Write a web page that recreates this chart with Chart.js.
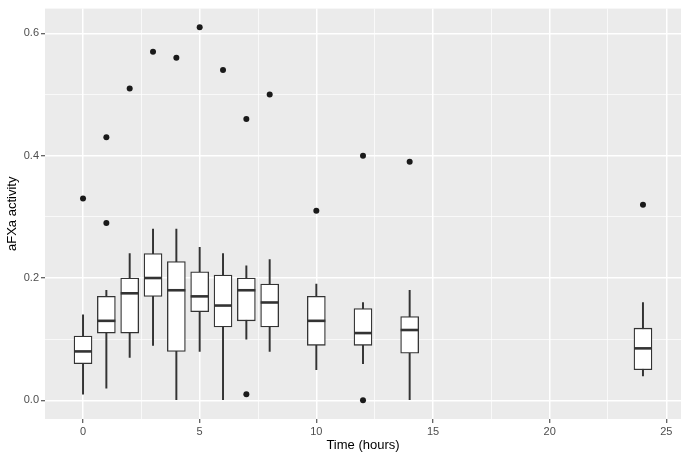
<!DOCTYPE html>
<html>
<head>
<meta charset="utf-8">
<script src="https://cdn.jsdelivr.net/npm/chart.js@4.4.1/dist/chart.umd.min.js"></script>
<style>
  html, body { margin: 0; padding: 0; background: #fff; }
  #wrap { width: 685px; height: 456px; }
</style>
</head>
<body>
<div id="wrap"><canvas id="boxChart" width="685" height="456"></canvas></div>
<script>
// box summaries per time point
const times   = [0, 1, 2, 3, 4, 5, 6, 7, 8, 10, 12, 14, 24];
const whiskLo = [0.01, 0.02, 0.07, 0.09, 0.00, 0.08, 0.00, 0.10, 0.08, 0.05, 0.06, 0.00, 0.04];
const q1      = [0.06, 0.11, 0.11, 0.17, 0.08, 0.145, 0.12, 0.13, 0.12, 0.09, 0.09, 0.077, 0.05];
const medians = [0.08, 0.13, 0.175, 0.20, 0.18, 0.17, 0.155, 0.18, 0.16, 0.13, 0.11, 0.115, 0.085];
const q3      = [0.105, 0.17, 0.20, 0.24, 0.227, 0.21, 0.205, 0.20, 0.19, 0.17, 0.15, 0.137, 0.118];
const whiskHi = [0.14, 0.18, 0.24, 0.28, 0.28, 0.25, 0.24, 0.22, 0.23, 0.19, 0.16, 0.18, 0.16];

// outliers
const outlierTimes  = [0, 1, 1, 2, 3, 4, 5, 6, 7, 7, 8, 10, 12, 12, 14, 24];
const outlierValues = [0.33, 0.43, 0.29, 0.51, 0.57, 0.56, 0.61, 0.54, 0.46, 0.01, 0.50, 0.31, 0.40, 0.00, 0.39, 0.32];

const xMajor = [0, 5, 10, 15, 20, 25];
const yMajor = ["0.0", "0.2", "0.4", "0.6"];

const lineCol = "#333333";
const tickFont = { family: "'Liberation Sans', Arial, sans-serif", size: 11 };

const isMajorX = v => Math.abs(v % 5) < 1e-6;
const isMajorY = v => Math.abs(Math.round(v * 10)) % 2 === 0;
const tickVal = c => (c.tick ? c.tick.value : NaN);

// grey panel behind the plot
const panelBg = {
  id: "panelBg",
  beforeDraw(chart) {
    const { ctx, chartArea: a } = chart;
    ctx.save();
    ctx.fillStyle = "#EBEBEB";
    ctx.fillRect(a.left, a.top, a.right - a.left, a.bottom - a.top);
    ctx.restore();
  }
};

// median bars across each box
const medianLines = {
  id: "medianLines",
  afterDatasetsDraw(chart) {
    const { ctx } = chart;
    const xs = chart.scales.x, ys = chart.scales.y;
    const boxes = chart.getDatasetMeta(1).data;
    ctx.save();
    ctx.strokeStyle = lineCol;
    ctx.lineWidth = 2.6;
    medians.forEach((m, i) => {
      const cx = xs.getPixelForValue(times[i]);
      const half = boxes[i].width / 2;
      const y = ys.getPixelForValue(m);
      ctx.beginPath();
      ctx.moveTo(cx - half, y);
      ctx.lineTo(cx + half, y);
      ctx.stroke();
    });
    ctx.restore();
  }
};

const ctx = document.getElementById("boxChart").getContext("2d");
new Chart(ctx, {
  data: {
    datasets: [
      {
        type: "bar",
        label: "whiskers",
        data: times.map((t, i) => ({ x: t, y: [whiskLo[i], whiskHi[i]] })),
        backgroundColor: lineCol,
        borderWidth: 0,
        barThickness: 1.3,
        grouped: false,
        order: 3
      },
      {
        type: "bar",
        label: "boxes",
        data: times.map((t, i) => ({ x: t, y: [q1[i], q3[i]] })),
        backgroundColor: "#FFFFFF",
        borderColor: lineCol,
        borderWidth: 1.3,
        borderSkipped: false,
        barThickness: 18,
        grouped: false,
        order: 2
      },
      {
        type: "scatter",
        label: "outliers",
        data: outlierTimes.map((t, i) => ({ x: t, y: outlierValues[i] })),
        backgroundColor: "#1A1A1A",
        borderWidth: 0,
        pointRadius: 3,
        order: 1
      }
    ]
  },
  options: {
    responsive: false,
    animation: false,
    layout: { padding: { top: 5, right: 2, left: 0, bottom: 0 } },
    plugins: { legend: { display: false }, tooltip: { enabled: false } },
    scales: {
      x: {
        type: "linear",
        min: -1.63,
        max: 25.63,
        offset: false,
        afterFit(scale) { scale.height = 37; },
        border: { display: false },
        grid: {
          offset: false,
          color: "#FFFFFF",
          lineWidth: c => (isMajorX(tickVal(c)) ? 1.5 : 0.7),
          tickColor: c => (isMajorX(tickVal(c)) ? lineCol : "rgba(0,0,0,0)"),
          tickLength: 4,
          tickWidth: 1
        },
        ticks: {
          stepSize: 2.5,
          includeBounds: false,
          autoSkip: false,
          maxRotation: 0,
          padding: 2,
          color: "#4D4D4D",
          font: tickFont,
          callback: v => (isMajorX(v) && xMajor.includes(v) ? String(v) : "")
        },
        title: {
          display: true,
          text: "Time (hours)",
          color: "#000000",
          font: { family: "'Liberation Sans', Arial, sans-serif", size: 13 },
          padding: { top: 0, bottom: 3 }
        }
      },
      y: {
        type: "linear",
        min: -0.0305,
        max: 0.6405,
        afterFit(scale) { scale.width = 45; },
        border: { display: false },
        grid: {
          color: "#FFFFFF",
          lineWidth: c => (isMajorY(tickVal(c)) ? 1.5 : 0.7),
          tickColor: c => (isMajorY(tickVal(c)) ? lineCol : "rgba(0,0,0,0)"),
          tickLength: 4,
          tickWidth: 1
        },
        ticks: {
          stepSize: 0.1,
          includeBounds: false,
          autoSkip: false,
          padding: 2,
          color: "#4D4D4D",
          font: tickFont,
          callback: v => (isMajorY(v) ? yMajor[Math.round(v * 5)] : "")
        },
        title: {
          display: true,
          text: "aFXa activity",
          color: "#000000",
          font: { family: "'Liberation Sans', Arial, sans-serif", size: 13 },
          padding: { top: 5, bottom: 0 }
        }
      }
    }
  },
  plugins: [panelBg, medianLines]
});
</script>
</body>
</html>
